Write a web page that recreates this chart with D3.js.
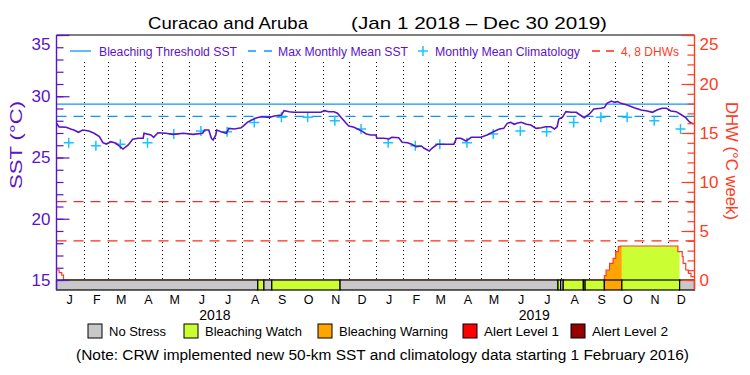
<!DOCTYPE html>
<html>
<head>
<meta charset="utf-8">
<script src="https://cdn.jsdelivr.net/npm/d3@7"></script>
<style>
  body { margin: 0; background: #fff; }
  svg text { font-family: "Liberation Sans", Arial, sans-serif; }
</style>
</head>
<body>
<svg id="chart" width="750" height="375"></svg>
<script>
// daily SST (°C)
const sstSeries = [
  ["2018-01-01", 27.80], ["2018-01-04", 27.50], ["2018-01-12", 27.47], ["2018-01-18", 27.30],
  ["2018-01-21", 27.24], ["2018-01-26", 27.06], ["2018-01-31", 27.24], ["2018-02-07", 27.16],
  ["2018-02-13", 26.98], ["2018-02-19", 26.70], ["2018-02-23", 26.21], ["2018-02-27", 26.10],
  ["2018-03-04", 26.29], ["2018-03-10", 26.16], ["2018-03-18", 25.69], ["2018-03-24", 26.02],
  ["2018-03-29", 26.49], ["2018-04-04", 26.57], ["2018-04-10", 26.57], ["2018-04-11", 26.98],
  ["2018-04-19", 26.84], ["2018-04-22", 26.65], ["2018-04-27", 27.02], ["2018-05-06", 26.98],
  ["2018-05-14", 26.89], ["2018-05-26", 26.98], ["2018-06-06", 26.89], ["2018-06-17", 26.98],
  ["2018-06-19", 27.24], ["2018-06-24", 27.24], ["2018-06-27", 26.57], ["2018-06-29", 26.43],
  ["2018-07-02", 26.84], ["2018-07-03", 27.24], ["2018-07-08", 27.11], ["2018-07-14", 26.98],
  ["2018-07-17", 27.38], ["2018-07-23", 27.33], ["2018-07-31", 27.43], ["2018-08-03", 27.60],
  ["2018-08-07", 27.87], ["2018-08-12", 28.06], ["2018-08-18", 28.25], ["2018-08-23", 28.33],
  ["2018-09-01", 28.28], ["2018-09-07", 28.39], ["2018-09-15", 28.47], ["2018-09-18", 28.82],
  ["2018-09-24", 28.74], ["2018-09-29", 28.69], ["2018-10-14", 28.69], ["2018-10-30", 28.69],
  ["2018-11-03", 28.82], ["2018-11-08", 28.74], ["2018-11-14", 28.74], ["2018-11-18", 28.61],
  ["2018-11-23", 28.20], ["2018-11-28", 27.79], ["2018-12-01", 27.57], ["2018-12-07", 27.47],
  ["2018-12-15", 27.19], ["2018-12-21", 26.92], ["2018-12-26", 26.84], ["2019-01-01", 26.84],
  ["2019-01-02", 26.57], ["2019-01-10", 26.57], ["2019-01-16", 26.51], ["2019-01-19", 26.65],
  ["2019-01-27", 26.62], ["2019-01-31", 26.24], ["2019-02-06", 26.21], ["2019-02-11", 26.08],
  ["2019-02-16", 25.88], ["2019-02-22", 25.94], ["2019-02-25", 25.75], ["2019-03-03", 25.53],
  ["2019-03-06", 25.75], ["2019-03-12", 26.08], ["2019-03-20", 26.08], ["2019-03-31", 26.08],
  ["2019-04-03", 26.57], ["2019-04-08", 26.57], ["2019-04-14", 26.35], ["2019-04-20", 26.65],
  ["2019-05-01", 26.65], ["2019-05-08", 26.84], ["2019-05-14", 27.06], ["2019-05-22", 27.33],
  ["2019-05-27", 27.38], ["2019-05-31", 27.79], ["2019-06-04", 27.87], ["2019-06-08", 27.71],
  ["2019-06-11", 27.79], ["2019-06-16", 27.87], ["2019-06-22", 27.71], ["2019-06-27", 27.65],
  ["2019-07-03", 27.38], ["2019-07-09", 27.43], ["2019-07-14", 27.51], ["2019-07-20", 27.51],
  ["2019-07-24", 27.33], ["2019-07-27", 27.51], ["2019-07-29", 28.14], ["2019-08-02", 28.28],
  ["2019-08-06", 28.74], ["2019-08-12", 28.69], ["2019-08-18", 28.69], ["2019-08-21", 28.53],
  ["2019-08-27", 28.25], ["2019-09-02", 28.55], ["2019-09-07", 28.96], ["2019-09-15", 29.02],
  ["2019-09-19", 29.07], ["2019-09-22", 29.42], ["2019-09-27", 29.61], ["2019-09-30", 29.51],
  ["2019-10-04", 29.56], ["2019-10-08", 29.42], ["2019-10-15", 29.29], ["2019-10-23", 29.07],
  ["2019-10-31", 28.88], ["2019-11-07", 28.80], ["2019-11-13", 28.69], ["2019-11-18", 28.88],
  ["2019-11-24", 29.02], ["2019-11-29", 29.02], ["2019-12-04", 28.80], ["2019-12-10", 28.74],
  ["2019-12-15", 28.53], ["2019-12-21", 28.25], ["2019-12-25", 27.92], ["2019-12-28", 27.79],
  ["2019-12-30", 27.75]
];

// monthly mean climatology, Jan..Dec
const climatology = [26.20, 25.95, 26.08, 26.20, 26.92, 27.17, 27.11, 27.85, 28.28, 28.28, 28.00, 27.32];
const climYears = [2018, 2019];

const bleachingThreshold = 29.36;
const maxMonthlyMean = 28.36;
const dhwRefLines = [4, 8];

// degree heating weeks (step values)
const dhwSeries = [
  ["2018-01-01", 1.02], ["2018-01-04", 0.75], ["2018-01-07", 0.50], ["2018-01-09", 0],
  ["2019-09-19", 0.44], ["2019-09-21", 1.02], ["2019-09-25", 1.70], ["2019-09-29", 2.21],
  ["2019-10-02", 2.89], ["2019-10-05", 3.40], ["2019-10-07", 3.47], ["2019-12-12", 2.89],
  ["2019-12-17", 2.38], ["2019-12-18", 1.70], ["2019-12-21", 1.02], ["2019-12-24", 0.68],
  ["2019-12-27", 0.34], ["2019-12-31", 0.34]
];

// stress level periods: start date + level index
const stressStarts = ["2018-01-01", "2018-08-19", "2018-08-26", "2018-09-04", "2018-11-21",
  "2019-07-28", "2019-07-31", "2019-08-03", "2019-08-26", "2019-08-28",
  "2019-09-19", "2019-10-09", "2019-12-14"];
const stressLevels = [0, 1, 0, 1, 0, 1, 0, 1, 0, 1, 2, 1, 0];
const stressEnd = "2019-12-31";

const stressNames = ["No Stress", "Bleaching Watch", "Bleaching Warning", "Alert Level 1", "Alert Level 2"];
const stressColors = ["#c8c8c8", "#ccff33", "#ffa500", "#ff0000", "#960000"];
const monthLetters = ["J", "F", "M", "A", "M", "J", "J", "A", "S", "O", "N", "D"];
const yearLabels = [2018, 2019];

const PURPLE = "#5a14c8", ORANGE = "#ff3c1e", RED = "#ff2a1a", BLUE = "#0f96f5", CYAN = "#19c3ff";

const parse = d3.timeParse("%Y-%m-%d");
const L = 56.5, R = 694.5, T = 35, B = 280, barH = 10;

const svg = d3.select("#chart");
const x = d3.scaleTime().domain([new Date(2018, 0, 1), new Date(2019, 11, 31)]).range([L, R]);
const ySst = d3.scaleLinear().domain([15, 35]).range([B, T]);
const yDhw = d3.scaleLinear().domain([0, 25]).range([B, T]);

// title
svg.append("text").attr("x", 148).attr("y", 29).attr("font-size", 17)
  .attr("textLength", 160).attr("lengthAdjust", "spacingAndGlyphs").text("Curacao and Aruba");
svg.append("text").attr("x", 351).attr("y", 29).attr("font-size", 17)
  .attr("textLength", 256).attr("lengthAdjust", "spacingAndGlyphs").text("(Jan 1 2018 – Dec 30 2019)");

// month grid (dotted)
svg.append("g").selectAll("line")
  .data(d3.timeMonth.range(new Date(2018, 1, 1), new Date(2019, 11, 31)))
  .join("line")
  .attr("x1", d => Math.round(x(d)) + .5).attr("x2", d => Math.round(x(d)) + .5)
  .attr("y1", 62).attr("y2", B)
  .attr("stroke", "#000").attr("stroke-width", 1).attr("stroke-dasharray", "1,3");

// reference lines
svg.append("line").attr("x1", L).attr("x2", R)
  .attr("y1", ySst(bleachingThreshold)).attr("y2", ySst(bleachingThreshold))
  .attr("stroke", BLUE).attr("stroke-width", 1.3);
svg.append("line").attr("x1", L).attr("x2", R)
  .attr("y1", ySst(maxMonthlyMean)).attr("y2", ySst(maxMonthlyMean))
  .attr("stroke", BLUE).attr("stroke-width", 1.3).attr("stroke-dasharray", "10,7");
svg.append("g").selectAll("line").data(dhwRefLines).join("line")
  .attr("x1", L).attr("x2", R).attr("y1", d => yDhw(d)).attr("y2", d => yDhw(d))
  .attr("stroke", RED).attr("stroke-width", 1.3).attr("stroke-dasharray", "10,7");

// DHW area, filled with the stress colour of each period
const dhw = dhwSeries.map(([d, v]) => ({ date: parse(d), v }));
const stress = stressStarts.map((d, i) => ({
  start: parse(d), end: parse(stressStarts[i + 1] || stressEnd), level: stressLevels[i]
}));
const area = d3.area().curve(d3.curveStepAfter).x(d => x(d.date)).y0(B).y1(d => yDhw(d.v));
const defs = svg.append("defs");
stress.forEach((s, i) => {
  if (s.level === 0) return;
  defs.append("clipPath").attr("id", "clip" + i).append("rect")
    .attr("x", x(s.start)).attr("width", x(s.end) - x(s.start)).attr("y", T).attr("height", B - T);
  svg.append("path").datum(dhw).attr("d", area)
    .attr("fill", stressColors[s.level]).attr("clip-path", `url(#clip${i})`);
});
svg.append("path").datum(dhw)
  .attr("d", d3.line().curve(d3.curveStepAfter).x(d => x(d.date)).y(d => yDhw(d.v)))
  .attr("fill", "none").attr("stroke", ORANGE).attr("stroke-width", 1.2);

// climatology crosses
const clim = climYears.flatMap(yr => climatology.map((v, m) => ({ date: new Date(yr, m, 15), v })));
svg.append("g").selectAll("path").data(clim).join("path")
  .attr("transform", d => `translate(${x(d.date)},${ySst(d.v)})`)
  .attr("d", "M-5,0H5M0,-5V5").attr("stroke", CYAN).attr("stroke-width", 1.5);

// SST line
const sst = sstSeries.map(([d, v]) => ({ date: parse(d), v }));
svg.append("path").datum(sst)
  .attr("d", d3.line().x(d => x(d.date)).y(d => ySst(d.v)))
  .attr("fill", "none").attr("stroke", PURPLE).attr("stroke-width", 1.6);

// stress bar
svg.append("g").selectAll("rect").data(stress).join("rect")
  .attr("x", d => x(d.start)).attr("width", d => x(d.end) - x(d.start))
  .attr("y", B).attr("height", barH)
  .attr("fill", d => stressColors[d.level]).attr("stroke", "#000").attr("stroke-width", 1.2);

// top frame
svg.append("line").attr("x1", L).attr("x2", R).attr("y1", T).attr("y2", T)
  .attr("stroke", "#000").attr("stroke-width", 1.2);

// left axis (SST)
function styleAxis(g, color) {
  g.select(".domain").remove();
  g.selectAll("line").attr("stroke", color).attr("stroke-width", 1.2);
  g.selectAll("text").attr("fill", color).attr("font-size", 17)
    .attr("font-family", "Liberation Sans, Arial, sans-serif");
}
svg.append("g").attr("transform", `translate(${L},0)`)
  .call(d3.axisLeft(ySst).tickValues(d3.range(15, 36)).tickSizeInner(-7).tickSizeOuter(0).tickFormat(""))
  .call(g => styleAxis(g, PURPLE));
svg.append("g").attr("transform", `translate(${L},0)`)
  .call(d3.axisLeft(ySst).tickValues([15, 20, 25, 30, 35]).tickSizeInner(-13).tickSizeOuter(0).tickPadding(6))
  .call(g => styleAxis(g, PURPLE))
  .call(g => g.selectAll(".tick text").filter(d => d === 35).attr("dy", "0.85em"));
svg.append("line").attr("x1", L).attr("x2", L).attr("y1", T).attr("y2", B + barH)
  .attr("stroke", PURPLE).attr("stroke-width", 1.4);

// right axis (DHW)
svg.append("g").attr("transform", `translate(${R},0)`)
  .call(d3.axisRight(yDhw).tickValues(d3.range(0, 26)).tickSizeInner(-7).tickSizeOuter(0).tickFormat(""))
  .call(g => styleAxis(g, ORANGE));
svg.append("g").attr("transform", `translate(${R},0)`)
  .call(d3.axisRight(yDhw).tickValues([0, 5, 10, 15, 20, 25]).tickSizeInner(-13).tickSizeOuter(0).tickPadding(5))
  .call(g => styleAxis(g, ORANGE))
  .call(g => g.selectAll(".tick text").filter(d => d === 25).attr("dy", "0.85em"));
svg.append("line").attr("x1", R).attr("x2", R).attr("y1", T).attr("y2", B + barH)
  .attr("stroke", ORANGE).attr("stroke-width", 1.4);

// axis titles
svg.append("text").attr("transform", "translate(16,145) rotate(-90)")
  .attr("text-anchor", "middle").attr("dominant-baseline", "central")
  .attr("font-size", 17).attr("fill", PURPLE)
  .attr("textLength", 88).attr("lengthAdjust", "spacingAndGlyphs").text("SST (°C)");
svg.append("text").attr("transform", "translate(731,161) rotate(90)")
  .attr("text-anchor", "middle").attr("dominant-baseline", "central")
  .attr("font-size", 17).attr("fill", ORANGE)
  .attr("textLength", 118).attr("lengthAdjust", "spacingAndGlyphs").text("DHW (°C week)");

// month and year labels
const months = d3.timeMonth.range(new Date(2018, 0, 1), new Date(2020, 0, 1));
svg.append("g").selectAll("text").data(months).join("text")
  .attr("x", d => x(d3.timeDay.offset(d, 15))).attr("y", 304)
  .attr("text-anchor", "middle").attr("font-size", 12.5)
  .text(d => monthLetters[d.getMonth()]);
svg.append("g").selectAll("text").data(yearLabels).join("text")
  .attr("x", d => x(new Date(d, 6, 1))).attr("y", 320)
  .attr("text-anchor", "middle").attr("font-size", 14)
  .text(d => d);

// top legend
const lg = svg.append("g").attr("font-size", 12.5);
lg.append("line").attr("x1", 70).attr("x2", 91).attr("y1", 51).attr("y2", 51).attr("stroke", BLUE).attr("stroke-width", 1.3);
lg.append("text").attr("x", 99).attr("y", 56).attr("fill", PURPLE)
  .attr("textLength", 138).attr("lengthAdjust", "spacingAndGlyphs").text("Bleaching Threshold SST");
lg.append("line").attr("x1", 248).attr("x2", 272).attr("y1", 51).attr("y2", 51)
  .attr("stroke", BLUE).attr("stroke-width", 1.3).attr("stroke-dasharray", "8,8");
lg.append("text").attr("x", 278).attr("y", 56).attr("fill", PURPLE)
  .attr("textLength", 130).attr("lengthAdjust", "spacingAndGlyphs").text("Max Monthly Mean SST");
lg.append("path").attr("d", "M418,51H428M423,46V56").attr("stroke", CYAN).attr("stroke-width", 1.5);
lg.append("text").attr("x", 435).attr("y", 56).attr("fill", PURPLE)
  .attr("textLength", 145).attr("lengthAdjust", "spacingAndGlyphs").text("Monthly Mean Climatology");
lg.append("line").attr("x1", 592).attr("x2", 614).attr("y1", 51).attr("y2", 51)
  .attr("stroke", RED).attr("stroke-width", 1.3).attr("stroke-dasharray", "8,6");
lg.append("text").attr("x", 621).attr("y", 56).attr("fill", ORANGE)
  .attr("textLength", 58).attr("lengthAdjust", "spacingAndGlyphs").text("4, 8 DHWs");

// bottom legend
const legendX = [88, 184, 318, 463, 571];
const legendW = [57, 97, 109, 75, 76];
const bl = svg.append("g").selectAll("g").data(stressNames).join("g")
  .attr("transform", (d, i) => `translate(${legendX[i]},324)`);
bl.append("rect").attr("width", 14).attr("height", 14)
  .attr("fill", (d, i) => stressColors[i]).attr("stroke", "#000").attr("stroke-width", 1);
bl.append("text").attr("x", 21).attr("y", 12).attr("font-size", 13)
  .attr("textLength", (d, i) => legendW[i]).attr("lengthAdjust", "spacingAndGlyphs").text(d => d);

svg.append("text").attr("x", 76).attr("y", 360).attr("font-size", 14)
  .attr("textLength", 613).attr("lengthAdjust", "spacingAndGlyphs")
  .text("(Note: CRW implemented new 50-km SST and climatology data starting 1 February 2016)");
</script>
</body>
</html>
